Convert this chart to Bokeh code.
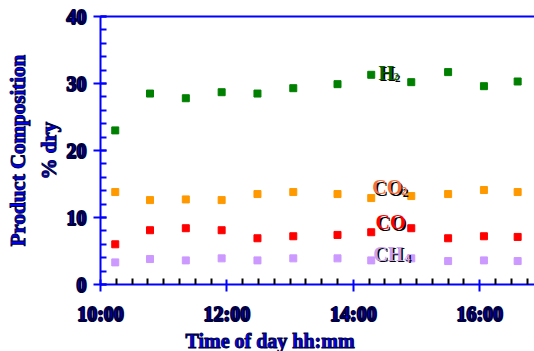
import pandas as pd
from bokeh.plotting import figure
from bokeh.models import (Label, LinearAxis, FixedTicker, Range1d, Title,
                          DatetimeTickFormatter, SingleIntervalTicker, ColumnDataSource)
from bokeh.embed import file_html
from bokeh.resources import INLINE

# ---------------- data ----------------
times = ["10:14", "10:47", "11:21", "11:55", "12:29", "13:03",
         "13:45", "14:17", "14:55", "15:30", "16:04", "16:36"]
h2 = [23.0, 28.5, 27.8, 28.7, 28.5, 29.3, 29.9, 31.3, 30.2, 31.7, 29.6, 30.3]
co2 = [13.8, 12.6, 12.7, 12.6, 13.5, 13.8, 13.5, 12.9, 13.2, 13.5, 14.1, 13.8]
co = [6.0, 8.1, 8.4, 8.1, 6.9, 7.2, 7.4, 7.8, 8.4, 6.9, 7.2, 7.1]
ch4 = [3.3, 3.8, 3.6, 3.9, 3.6, 3.9, 3.9, 3.6, 3.9, 3.5, 3.6, 3.5]

major_tick_times = ["10:00", "12:00", "14:00", "16:00"]
y_title_lines = ["Product Composition", "% dry"]
x_title = "Time of day hh:mm"

DAY = "2000-01-01 "


def t(s):
    return pd.Timestamp(DAY + s)


def ms(s):
    return t(s).value / 1e6


BLUE = "#0000FF"
SHADOW = "#000040"
FONT = "Liberation Serif"

src = ColumnDataSource(dict(x=[t(s) for s in times], h2=h2, co2=co2, co=co, ch4=ch4))

p = figure(width=534, height=351, output_backend="svg", toolbar_location=None,
           x_axis_type="datetime",
           x_range=Range1d(ms("10:00"), ms("16:52")), y_range=Range1d(0, 40),
           min_border_left=100, min_border_right=0, min_border_top=16,
           min_border_bottom=67)
p.grid.visible = False
p.outline_line_color = None
p.background_fill_color = "white"
p.border_fill_color = "white"

# x axis ticks
major_ms = [ms(s) for s in major_tick_times]
minor_ms = [ms("10:00") + i * 15 * 60000 for i in range(0, 28)]
minor_ms = [m for m in minor_ms if m not in major_ms]
p.xaxis.ticker = FixedTicker(ticks=major_ms, minor_ticks=minor_ms)
p.xaxis.formatter = DatetimeTickFormatter(hours="%H:%M", hourmin="%H:%M",
                                          minutes="%H:%M", minsec="%H:%M")
p.yaxis.ticker = SingleIntervalTicker(interval=10, num_minor_ticks=5)

for ax in (p.xaxis[0], p.yaxis[0]):
    ax.axis_line_color = BLUE
    ax.axis_line_width = 2
    ax.major_tick_line_color = BLUE
    ax.major_tick_line_width = 2
    ax.minor_tick_line_width = 2
    ax.major_label_text_font = FONT
    ax.major_label_text_font_style = "bold"
    ax.major_label_text_font_size = "20px"
    ax.major_label_text_color = BLUE
    ax.major_label_text_outline_color = SHADOW

p.xaxis.minor_tick_line_color = "black"
p.xaxis.major_tick_in = 5
p.xaxis.major_tick_out = 7
p.xaxis.minor_tick_in = 6
p.xaxis.minor_tick_out = 0
p.xaxis.major_label_standoff = 11

p.yaxis.minor_tick_line_color = BLUE
p.yaxis.major_tick_in = 6
p.yaxis.major_tick_out = 7
p.yaxis.minor_tick_in = 6
p.yaxis.minor_tick_out = 0
p.yaxis.major_label_standoff = 7

top = LinearAxis(ticker=FixedTicker(ticks=[]), major_tick_in=0, major_tick_out=0,
                 minor_tick_in=0, minor_tick_out=0, axis_line_color=BLUE,
                 axis_line_width=2, major_label_text_font_size="0px")
p.add_layout(top, "above")

# ---------------- axis titles ----------------
def title(text, standoff, size, align="center", offset=0):
    return Title(text=text, align=align, offset=offset, standoff=standoff,
                 text_font=FONT, text_font_style="bold", text_font_size=size,
                 text_color=BLUE, text_outline_color=SHADOW)


p.add_layout(title(y_title_lines[1], 6, "21px"), "left")
p.add_layout(title(y_title_lines[0], 4, "21px"), "left")
p.add_layout(title(x_title, 0, "20px", align="left", offset=85), "below")

# ---------------- series ----------------
series = [("h2", "#008000"), ("co2", "#FF9900"), ("co", "#FF0000"), ("ch4", "#CC99FF")]
for col, color in series:
    p.scatter("x", col, source=src, marker="square", size=7,
              fill_color=color, line_color=color)


def shadow_label(text, x, y, color, size, xo=0, yo=0):
    for c, dx, dy in (("black", 1.5, -1.5), (color, 0, 0)):
        lab = Label(x=x, y=y, text=text, x_offset=xo + dx, y_offset=yo + dy,
                    text_font=FONT, text_font_style="bold",
                    text_font_size=size, text_color=c,
                    text_align="left", text_baseline="alphabetic")
        p.add_layout(lab)


# series labels
shadow_label("H", ms("14:24"), 31.6, "#006400", "20px")
shadow_label("2", ms("14:24"), 31.6, "#006400", "11px", xo=15, yo=-4)
shadow_label("CO", ms("14:18"), 14.5, "#F07040", "20px")
shadow_label("2", ms("14:18"), 14.5, "#F07040", "12px", xo=29, yo=-4)
shadow_label("CO", ms("14:21"), 9.3, "#FF0000", "20px")
shadow_label("CH", ms("14:19"), 4.6, "#C8A0F0", "20px")
shadow_label("4", ms("14:19"), 4.6, "#C8A0F0", "12px", xo=31, yo=-4)

open("out.html", "w").write(file_html(p, INLINE))
